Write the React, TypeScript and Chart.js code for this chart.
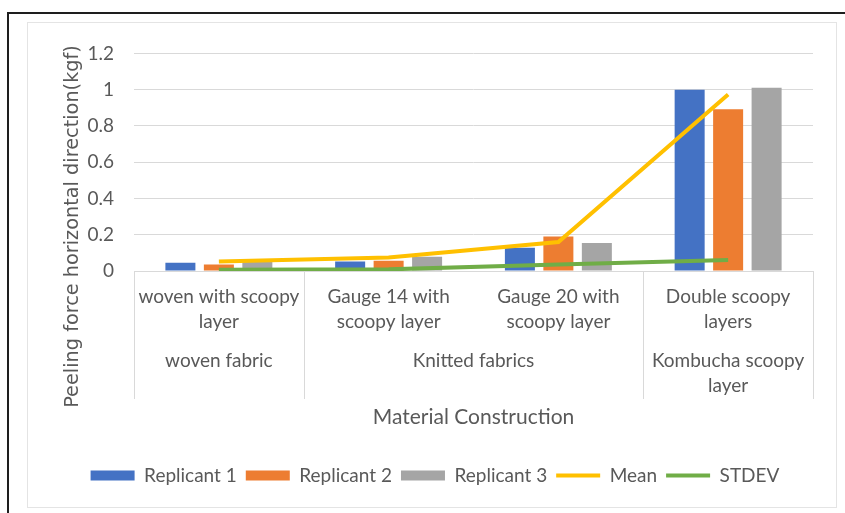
import React, { useEffect, useRef } from "react";
import { Chart, registerables } from "chart.js";
Chart.register(...registerables);

const categories = [
  ["woven with scoopy", "layer"],
  ["Gauge 14 with", "scoopy layer"],
  ["Gauge 20 with", "scoopy layer"],
  ["Double scoopy", "layers"],
];
const groupLabels = [["woven fabric"], ["Knitted fabrics"], ["Kombucha scoopy", "layer"]];
const groupSpans = [
  [0, 0],
  [1, 2],
  [3, 3],
];
const replicant1 = [0.045, 0.052, 0.128, 1.0];
const replicant2 = [0.036, 0.056, 0.19, 0.892];
const replicant3 = [0.05, 0.079, 0.155, 1.011];
const meanValues = [0.052, 0.074, 0.16, 0.973];
const stdevValues = [0.007, 0.009, 0.036, 0.061];
const yTickValues = [0, 0.2, 0.4, 0.6, 0.8, 1, 1.2];
const yTickLabels = ["0", "0.2", "0.4", "0.6", "0.8", "1", "1.2"];
const yTitle = "Peeling force horizontal direction(kgf)";
const xTitle = "Material Construction";

const TEXT = "#595959";
const GRID = "#D9D9D9";
const FONT = "Lato, 'Liberation Sans', sans-serif";

const groupPlugin = {
  id: "groupLabels",
  afterDraw(chart: any) {
    const ctx = chart.ctx;
    const xs = chart.scales.x;
    const area = chart.chartArea;
    const n = categories.length;
    const px = (i: number) => xs.getPixelForValue(i);
    const boundary = (i: number) =>
      i === 0 ? xs.left : i === n ? xs.right : (px(i - 1) + px(i)) / 2;
    ctx.save();
    ctx.strokeStyle = GRID;
    ctx.lineWidth = 1;
    const bounds = new Set<number>();
    groupSpans.forEach(([a, b]) => {
      bounds.add(a);
      bounds.add(b + 1);
    });
    bounds.forEach((i) => {
      const x = Math.round(boundary(i)) + 0.5;
      ctx.beginPath();
      ctx.moveTo(x, area.bottom);
      ctx.lineTo(x, area.bottom + 128);
      ctx.stroke();
    });
    ctx.fillStyle = TEXT;
    ctx.font = `19px ${FONT}`;
    ctx.textAlign = "center";
    ctx.textBaseline = "middle";
    groupSpans.forEach(([a, b], gi) => {
      const cx = (boundary(a) + boundary(b + 1)) / 2;
      groupLabels[gi].forEach((line, li) => {
        ctx.fillText(line, cx, area.bottom + 90 + li * 25);
      });
    });
    // y-axis title
    ctx.translate(46, 204.5);
    ctx.rotate(-Math.PI / 2);
    ctx.font = `19.3px 'DejaVu Sans', sans-serif`;
    ctx.fillText(yTitle, 0, 0);
    ctx.restore();
  },
};

export default function App() {
  const ref = useRef<HTMLCanvasElement>(null);
  useEffect(() => {
    if (!ref.current) return;
    const chart = new Chart(ref.current, {
      type: "bar",
      data: {
        labels: categories as any,
        datasets: [
          { type: "bar", label: "Replicant 1", data: replicant1, backgroundColor: "#4472C4", order: 1, barPercentage: 0.78, categoryPercentage: 0.68 },
          { type: "bar", label: "Replicant 2", data: replicant2, backgroundColor: "#ED7D31", order: 1, barPercentage: 0.78, categoryPercentage: 0.68 },
          { type: "bar", label: "Replicant 3", data: replicant3, backgroundColor: "#A5A5A5", order: 1, barPercentage: 0.78, categoryPercentage: 0.68 },
          { type: "line", label: "Mean", data: meanValues, borderColor: "#FFC000", backgroundColor: "#FFC000", borderWidth: 4, pointRadius: 0, tension: 0, order: 0 } as any,
          { type: "line", label: "STDEV", data: stdevValues, borderColor: "#70AD47", backgroundColor: "#70AD47", borderWidth: 4, pointRadius: 0, tension: 0, order: 0 } as any,
        ],
      },
      options: {
        animation: false,
        responsive: true,
        maintainAspectRatio: false,
        layout: { padding: { top: 24, right: 23, left: 30, bottom: 12 } },
        plugins: {
          tooltip: { enabled: false },
          legend: {
            position: "bottom",
            labels: {
              color: TEXT,
              font: { family: FONT, size: 19 },
              usePointStyle: true,
              pointStyleWidth: 44,
              boxHeight: 10,
              padding: 9,
              sort: (a: any, b: any) => a.datasetIndex - b.datasetIndex,
              generateLabels: (c: any) => {
                const items = Chart.defaults.plugins.legend.labels.generateLabels(c);
                return items.map((it: any) => ({
                  ...it,
                  pointStyle: it.datasetIndex >= 3 ? "line" : "rect",
                  lineWidth: it.datasetIndex >= 3 ? 4 : 0,
                }));
              },
            },
          },
        },
        scales: {
          x: {
            grid: { display: false },
            border: { display: true, color: GRID },
            ticks: {
              color: TEXT,
              font: { family: FONT, size: 19, lineHeight: "25px" },
              padding: 5,
              maxRotation: 0,
              autoSkip: false,
            },
            title: {
              display: true,
              text: xTitle,
              color: TEXT,
              font: { family: FONT, size: 21 },
              padding: { top: 0, bottom: 27 },
            },
            afterFit: (s: any) => {
              s.height = 186;
            },
          },
          y: {
            min: 0,
            max: 1.2,
            afterBuildTicks: (s: any) => {
              s.ticks = yTickValues.map((v) => ({ value: v }));
            },
            grid: { color: GRID, drawTicks: false },
            border: { display: false },
            ticks: {
              color: TEXT,
              font: { family: FONT, size: 19 },
              padding: 20,
              callback: (v: any) => {
                const i = yTickValues.findIndex((t) => Math.abs(t - Number(v)) < 1e-9);
                return i >= 0 ? yTickLabels[i] : "";
              },
            },
            afterFit: (s: any) => {
              s.width = 77;
            },
          },
        },
      },
      plugins: [groupPlugin],
    });
    return () => chart.destroy();
  }, []);

  return (
    <div style={{ position: "fixed", left: 0, top: 0, width: 845, height: 513, background: "#fff", overflow: "hidden" }}>
      <div style={{ position: "absolute", left: 7, top: 12, right: -4, bottom: -4, borderTop: "2px solid #1e1e1e", borderLeft: "2px solid #1e1e1e" }} />
      <div style={{ position: "absolute", left: 27, top: 22, width: 809, height: 485 }}>
        <canvas ref={ref} />
      </div>
      <div style={{ position: "absolute", left: 27, top: 22, width: 808, height: 484, border: "1px solid #E4E4E4", pointerEvents: "none" }} />
    </div>
  );
}
